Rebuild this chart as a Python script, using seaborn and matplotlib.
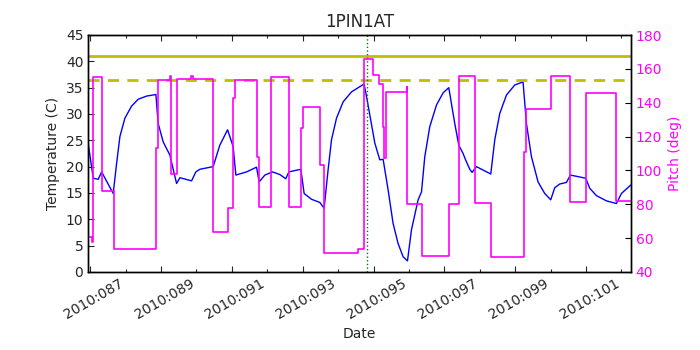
import matplotlib
matplotlib.use("Agg")
import matplotlib.pyplot as plt
import seaborn as sns
import numpy as np
import pandas as pd
from matplotlib.ticker import FixedLocator, FuncFormatter, NullFormatter

# ---------------- data (day of year 2010) ----------------
temp_day = [85.944, 86.086, 86.227, 86.323, 86.650, 86.746, 86.839, 86.980, 87.169,
            87.356, 87.593, 87.855, 87.920, 88.061, 88.250, 88.439, 88.533, 88.863,
            88.984, 89.097, 89.472, 89.662, 89.879, 90.037, 90.113, 90.415, 90.697,
            90.771, 90.932, 91.149, 91.355, 91.524, 91.609, 91.948, 92.041, 92.250,
            92.484, 92.605, 92.718, 92.814, 92.955, 93.142, 93.379, 93.734, 93.830,
            94.036, 94.177, 94.271, 94.412, 94.553, 94.694, 94.835, 94.959, 95.072,
            95.259, 95.355, 95.448, 95.589, 95.778, 95.964, 96.125, 96.294, 96.407,
            96.529, 96.599, 96.718, 96.783, 96.907, 97.311, 97.424, 97.565, 97.754,
            97.988, 98.222, 98.318, 98.459, 98.646, 98.835, 99.004, 99.117, 99.258,
            99.447, 99.560, 99.992, 100.105, 100.294, 100.576, 100.859, 101.000, 101.262]
temp_val = [24.4, 17.8, 17.6, 19.0, 14.9, 20.6, 25.7, 29.2, 31.5,
            32.8, 33.4, 33.7, 28.2, 24.7, 22.2, 16.8, 17.9, 17.3,
            19.0, 19.5, 20.0, 24.1, 27.0, 23.8, 18.4, 19.0, 19.9,
            17.1, 18.4, 19.0, 18.5, 17.7, 19.0, 19.5, 14.9, 13.8,
            13.2, 12.1, 19.4, 25.1, 29.2, 32.3, 34.2, 35.7, 32.3,
            24.5, 21.3, 21.4, 15.6, 9.2, 5.4, 2.9, 2.1, 8.0,
            13.7, 15.2, 21.9, 27.6, 31.7, 34.0, 35.0, 28.2, 24.1,
            22.5, 21.3, 19.5, 18.9, 20.0, 18.6, 25.1, 30.1, 33.6,
            35.5, 36.1, 28.2, 21.9, 17.1, 14.9, 13.7, 16.0, 16.7,
            17.0, 18.4, 17.8, 15.9, 14.5, 13.5, 13.0, 14.9, 16.5]

pitch_day = [85.944, 86.040, 86.086, 86.340, 86.678, 87.855, 87.920, 88.250, 88.279,
             88.439, 88.840, 88.900, 89.472, 89.879, 90.020, 90.085, 90.697, 90.771,
             91.101, 91.618, 91.948, 92.013, 92.484, 92.605, 93.548, 93.734, 93.988,
             94.158, 94.254, 94.290, 94.350, 94.945, 94.959, 95.370, 96.125, 96.407,
             96.879, 97.311, 98.251, 98.318, 99.024, 99.560, 100.011, 100.839, 101.262]
pitch_val = [60.5, 57.5, 155.0, 87.8, 53.6, 113.0, 153.6, 155.5, 97.9,
             153.8, 155.5, 153.8, 63.8, 78.0, 142.6, 153.4, 108.1, 78.6,
             155.0, 78.6, 124.9, 137.6, 103.2, 51.0, 53.6, 165.6, 156.4,
             151.0, 125.8, 107.2, 146.5, 149.5, 80.2, 49.6, 80.2, 155.8,
             80.6, 49.0, 111.1, 136.3, 156.0, 81.3, 145.5, 81.8, 81.8]

planning_limit = 41.0
caution_limit = 36.5
event_day = 93.82

x_min, x_max = 85.944, 101.262
temp_ticks = list(range(0, 50, 5))
pitch_ticks = list(range(40, 200, 20))
label_days = list(range(87, 102, 2))
unlabeled_days = list(range(86, 102, 2))

# ---------------- plot ----------------
sns.set_style("white")
plt.rcParams["font.family"] = ["DejaVu Sans"]
plt.rcParams["xtick.direction"] = "in"
plt.rcParams["ytick.direction"] = "in"

fig = plt.figure(figsize=(7, 3.5), dpi=100)
ax = fig.add_axes([0.126, 0.223, 0.901 - 0.126, 0.9 - 0.223])

temp_df = pd.DataFrame({"day": temp_day, "temp": temp_val})
pitch_df = pd.DataFrame({"day": pitch_day, "pitch": pitch_val})

sns.lineplot(data=temp_df, x="day", y="temp", ax=ax, color="#0000ff",
             linewidth=1.0, estimator=None, sort=False)
ax.axhline(planning_limit, color=(0.75, 0.75, 0), linewidth=2)
ax.axhline(caution_limit, color=(0.75, 0.75, 0), linewidth=2, linestyle="--",
           dashes=(4, 3))
ax.axvline(event_day, color=(0, 0.5, 0), linestyle=":", linewidth=1)

ax.set_xlim(x_min, x_max)
ax.set_ylim(0, 45)
ax.set_yticks(temp_ticks)
ax.set_title("1PIN1AT", fontsize=12)
ax.set_ylabel("Temperature (C)", fontsize=10)
ax.set_xlabel("Date", fontsize=10)

ax.xaxis.set_major_locator(FixedLocator(unlabeled_days))
ax.xaxis.set_major_formatter(NullFormatter())
ax.xaxis.set_minor_locator(FixedLocator(label_days))
ax.xaxis.set_minor_formatter(FuncFormatter(lambda v, p: "2010:%03d" % int(round(v))))
ax.tick_params(axis="x", which="major", length=4, width=0.8, top=True, bottom=True)
ax.tick_params(axis="x", which="minor", length=2, width=0.8, top=True, bottom=True,
               labelsize=10)
ax.tick_params(axis="y", which="major", length=4, width=0.8, labelsize=10, left=True)
for lbl in ax.xaxis.get_minorticklabels():
    lbl.set_rotation(30)
    lbl.set_ha("right")

ax2 = ax.twinx()
sns.lineplot(data=pitch_df, x="day", y="pitch", ax=ax2, color="#ff00ff",
             linewidth=1.2, estimator=None, sort=False, drawstyle="steps-post")
ax2.set_ylim(40, 180)
ax2.set_yticks(pitch_ticks)
ax2.set_xlim(x_min, x_max)
ax2.set_ylabel("Pitch (deg)", color="#ff00ff", fontsize=10)
ax2.tick_params(axis="y", colors="#ff00ff", labelsize=10, length=4, width=0.8,
                direction="in", right=True)
ax2.tick_params(axis="y", which="major", color="k")

for a in (ax, ax2):
    for s in a.spines.values():
        s.set_color("black")
        s.set_linewidth(1.0)

fig.savefig("out.png", dpi=100, facecolor="white")
